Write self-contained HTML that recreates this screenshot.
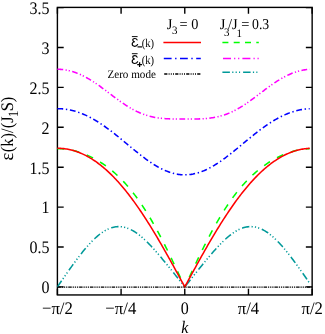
<!DOCTYPE html>
<html><head><meta charset="utf-8"><style>
html,body{margin:0;padding:0;background:#fff;}
body{width:325px;height:334px;overflow:hidden;}
svg{display:block;}
text{font-family:"Liberation Serif",serif;fill:#000;text-rendering:geometricPrecision;}
</style></head><body>
<svg style="will-change:transform" width="325" height="334" viewBox="0 0 325 334">
<rect width="325" height="334" fill="#fff"/>
<g stroke="#000" stroke-width="1.4" fill="none">
<rect x="57.40" y="7.40" width="254.75" height="287.55"/>
<path d="M57.40,286.90 h6.3 M312.15,286.90 h-6.3"/>
<path d="M57.40,247.00 h6.3 M312.15,247.00 h-6.3"/>
<path d="M57.40,207.10 h6.3 M312.15,207.10 h-6.3"/>
<path d="M57.40,167.20 h6.3 M312.15,167.20 h-6.3"/>
<path d="M57.40,127.30 h6.3 M312.15,127.30 h-6.3"/>
<path d="M57.40,87.40 h6.3 M312.15,87.40 h-6.3"/>
<path d="M57.40,47.50 h6.3 M312.15,47.50 h-6.3"/>
<path d="M57.40,7.60 h6.3 M312.15,7.60 h-6.3"/>
<path d="M57.40,294.95 v-6.3 M57.40,7.40 v6.3"/>
<path d="M121.09,294.95 v-6.3 M121.09,7.40 v6.3"/>
<path d="M184.77,294.95 v-6.3 M184.77,7.40 v6.3"/>
<path d="M248.46,294.95 v-6.3 M248.46,7.40 v6.3"/>
<path d="M312.15,294.95 v-6.3 M312.15,7.40 v6.3"/>
</g>
<g fill="none" stroke-width="1.5">
<g transform="scale(1,1)" stroke-width="1.55">
<path d="M57.40,148.694 L58.46,148.703 L59.52,148.728 L60.58,148.769 L61.65,148.827 L62.71,148.901 L63.77,148.993 L64.83,149.100 L65.89,149.224 L66.95,149.365 L68.01,149.522 L69.08,149.695 L70.14,149.885 L71.20,150.091 L72.26,150.314 L73.32,150.553 L74.38,150.809 L75.44,151.080 L76.51,151.368 L77.57,151.672 L78.63,151.993 L79.69,152.330 L80.75,152.683 L81.81,153.052 L82.88,153.438 L83.94,153.840 L85.00,154.259 L86.06,154.693 L87.12,155.144 L88.18,155.612 L89.24,156.096 L90.31,156.597 L91.37,157.115 L92.43,157.649 L93.49,158.200 L94.55,158.768 L95.61,159.353 L96.67,159.956 L97.74,160.576 L98.80,161.213 L99.86,161.868 L100.92,162.541 L101.98,163.233 L103.04,163.942 L104.10,164.670 L105.17,165.417 L106.23,166.183 L107.29,166.969 L108.35,167.773 L109.41,168.598 L110.47,169.443 L111.53,170.308 L112.60,171.194 L113.66,172.101 L114.72,173.029 L115.78,173.978 L116.84,174.950 L117.90,175.944 L118.96,176.960 L120.03,178.000 L121.09,179.062 L122.15,180.148 L123.21,181.258 L124.27,182.392 L125.33,183.550 L126.39,184.733 L127.46,185.941 L128.52,187.175 L129.58,188.433 L130.64,189.718 L131.70,191.029 L132.76,192.365 L133.82,193.728 L134.89,195.118 L135.95,196.535 L137.01,197.978 L138.07,199.448 L139.13,200.945 L140.19,202.470 L141.26,204.021 L142.32,205.600 L143.38,207.205 L144.44,208.838 L145.50,210.498 L146.56,212.184 L147.62,213.897 L148.69,215.637 L149.75,217.403 L150.81,219.195 L151.87,221.012 L152.93,222.855 L153.99,224.723 L155.05,226.616 L156.12,228.532 L157.18,230.473 L158.24,232.436 L159.30,234.422 L160.36,236.431 L161.42,238.460 L162.48,240.511 L163.55,242.581 L164.61,244.671 L165.67,246.779 L166.73,248.906 L167.79,251.049 L168.85,253.209 L169.91,255.384 L170.98,257.573 L172.04,259.776 L173.10,261.991 L174.16,264.218 L175.22,266.455 L176.28,268.703 L177.34,270.958 L178.41,273.222 L179.47,275.491 L180.53,277.767 L181.59,280.046 L182.65,282.329 L183.71,284.614 L184.77,286.900" stroke="#00ff00" stroke-dasharray="7 8.1"/>
<path d="M184.77,286.900 L185.82,284.658 L186.86,282.417 L187.90,280.178 L188.94,277.942 L189.98,275.710 L191.02,273.483 L192.06,271.263 L193.10,269.049 L194.14,266.844 L195.19,264.648 L196.23,262.461 L197.27,260.286 L198.31,258.122 L199.35,255.972 L200.39,253.835 L201.43,251.712 L202.47,249.605 L203.51,247.514 L204.55,245.439 L205.60,243.383 L206.64,241.345 L207.68,239.325 L208.72,237.326 L209.76,235.347 L210.80,233.389 L211.84,231.452 L212.88,229.537 L213.92,227.645 L214.97,225.776 L216.01,223.930 L217.05,222.108 L218.09,220.311 L219.13,218.537 L220.17,216.789 L221.21,215.066 L222.25,213.368 L223.29,211.695 L224.33,210.049 L225.38,208.428 L226.42,206.833 L227.46,205.264 L228.50,203.721 L229.54,202.204 L230.58,200.713 L231.62,199.249 L232.66,197.810 L233.70,196.397 L234.75,195.011 L235.79,193.649 L236.83,192.314 L237.87,191.003 L238.91,189.718 L239.95,188.458 L240.99,187.223 L242.03,186.012 L243.07,184.826 L244.11,183.663 L245.16,182.525 L246.20,181.409 L247.24,180.318 L248.28,179.249 L249.32,178.202 L250.36,177.179 L251.40,176.177 L252.44,175.197 L253.48,174.238 L254.52,173.301 L255.57,172.384 L256.61,171.488 L257.65,170.613 L258.69,169.757 L259.73,168.921 L260.77,168.104 L261.81,167.307 L262.85,166.529 L263.89,165.769 L264.94,165.027 L265.98,164.304 L267.02,163.599 L268.06,162.912 L269.10,162.242 L270.14,161.589 L271.18,160.954 L272.22,160.335 L273.26,159.734 L274.30,159.149 L275.35,158.581 L276.39,158.029 L277.43,157.493 L278.47,156.974 L279.51,156.470 L280.55,155.983 L281.59,155.512 L282.63,155.057 L283.67,154.617 L284.72,154.193 L285.76,153.785 L286.80,153.393 L287.84,153.016 L288.88,152.655 L289.92,152.310 L290.96,151.981 L292.00,151.667 L293.04,151.368 L294.08,151.086 L295.13,150.819 L296.17,150.568 L297.21,150.332 L298.25,150.112 L299.29,149.908 L300.33,149.720 L301.37,149.547 L302.41,149.391 L303.45,149.250 L304.49,149.125 L305.54,149.016 L306.58,148.923 L307.62,148.845 L308.66,148.784 L309.70,148.739" stroke="#00ff00" stroke-dasharray="7 8.1" stroke-dashoffset="4.47"/>
<path d="M57.40,69.277 L58.46,69.289 L59.52,69.323 L60.58,69.380 L61.65,69.460 L62.71,69.562 L63.77,69.687 L64.83,69.835 L65.89,70.006 L66.95,70.199 L68.01,70.414 L69.08,70.652 L70.14,70.913 L71.20,71.195 L72.26,71.500 L73.32,71.826 L74.38,72.174 L75.44,72.544 L76.51,72.936 L77.57,73.348 L78.63,73.781 L79.69,74.235 L80.75,74.710 L81.81,75.204 L82.88,75.719 L83.94,76.252 L85.00,76.805 L86.06,77.376 L87.12,77.965 L88.18,78.572 L89.24,79.196 L90.31,79.836 L91.37,80.492 L92.43,81.164 L93.49,81.850 L94.55,82.549 L95.61,83.262 L96.67,83.988 L97.74,84.725 L98.80,85.473 L99.86,86.231 L100.92,86.998 L101.98,87.773 L103.04,88.556 L104.10,89.344 L105.17,90.139 L106.23,90.937 L107.29,91.739 L108.35,92.543 L109.41,93.349 L110.47,94.155 L111.53,94.960 L112.60,95.763 L113.66,96.564 L114.72,97.361 L115.78,98.152 L116.84,98.938 L117.90,99.717 L118.96,100.489 L120.03,101.251 L121.09,102.003 L122.15,102.745 L123.21,103.475 L124.27,104.193 L125.33,104.898 L126.39,105.588 L127.46,106.263 L128.52,106.923 L129.58,107.567 L130.64,108.194 L131.70,108.804 L132.76,109.396 L133.82,109.970 L134.89,110.525 L135.95,111.061 L137.01,111.578 L138.07,112.075 L139.13,112.552 L140.19,113.010 L141.26,113.448 L142.32,113.866 L143.38,114.264 L144.44,114.642 L145.50,115.001 L146.56,115.341 L147.62,115.661 L148.69,115.963 L149.75,116.246 L150.81,116.512 L151.87,116.760 L152.93,116.991 L153.99,117.205 L155.05,117.404 L156.12,117.587 L157.18,117.755 L158.24,117.910 L159.30,118.051 L160.36,118.179 L161.42,118.296 L162.48,118.401 L163.55,118.495 L164.61,118.579 L165.67,118.654 L166.73,118.721 L167.79,118.779 L168.85,118.830 L169.91,118.875 L170.98,118.914 L172.04,118.947 L173.10,118.975 L174.16,118.999 L175.22,119.019 L176.28,119.036 L177.34,119.050 L178.41,119.061 L179.47,119.070 L180.53,119.077 L181.59,119.082 L182.65,119.086 L183.71,119.088 L184.77,119.089 L184.77,119.089 L185.82,119.088 L186.86,119.086 L187.90,119.083 L188.94,119.078 L189.98,119.071 L191.02,119.062 L192.06,119.052 L193.10,119.039 L194.14,119.023 L195.19,119.003 L196.23,118.981 L197.27,118.954 L198.31,118.922 L199.35,118.886 L200.39,118.844 L201.43,118.796 L202.47,118.741 L203.51,118.678 L204.55,118.608 L205.60,118.528 L206.64,118.440 L207.68,118.341 L208.72,118.232 L209.76,118.112 L210.80,117.979 L211.84,117.834 L212.88,117.676 L213.92,117.504 L214.97,117.318 L216.01,117.116 L217.05,116.899 L218.09,116.666 L219.13,116.417 L220.17,116.150 L221.21,115.866 L222.25,115.565 L223.29,115.245 L224.33,114.906 L225.38,114.549 L226.42,114.174 L227.46,113.779 L228.50,113.365 L229.54,112.932 L230.58,112.480 L231.62,112.009 L232.66,111.519 L233.70,111.010 L234.75,110.483 L235.79,109.937 L236.83,109.374 L237.87,108.793 L238.91,108.195 L239.95,107.580 L240.99,106.949 L242.03,106.302 L243.07,105.641 L244.11,104.965 L245.16,104.275 L246.20,103.573 L247.24,102.858 L248.28,102.133 L249.32,101.397 L250.36,100.651 L251.40,99.896 L252.44,99.134 L253.48,98.365 L254.52,97.590 L255.57,96.810 L256.61,96.026 L257.65,95.238 L258.69,94.449 L259.73,93.659 L260.77,92.869 L261.81,92.079 L262.85,91.292 L263.89,90.507 L264.94,89.726 L265.98,88.950 L267.02,88.179 L268.06,87.415 L269.10,86.658 L270.14,85.909 L271.18,85.170 L272.22,84.440 L273.26,83.722 L274.30,83.014 L275.35,82.319 L276.39,81.637 L277.43,80.969 L278.47,80.314 L279.51,79.675 L280.55,79.051 L281.59,78.442 L282.63,77.851 L283.67,77.276 L284.72,76.719 L285.76,76.180 L286.80,75.659 L287.84,75.156 L288.88,74.673 L289.92,74.209 L290.96,73.765 L292.00,73.340 L293.04,72.936 L294.08,72.552 L295.13,72.188 L296.17,71.846 L297.21,71.524 L298.25,71.224 L299.29,70.944 L300.33,70.686 L301.37,70.450 L302.41,70.235 L303.45,70.041 L304.49,69.870 L305.54,69.720 L306.58,69.591 L307.62,69.485 L308.66,69.401 L309.70,69.338" stroke="#ff00ff" stroke-dasharray="5.8 2.4 1.2 2 1.2 2.4"/>
<path d="M57.40,286.900 L58.46,285.355 L59.52,283.810 L60.58,282.267 L61.65,280.726 L62.71,279.188 L63.77,277.654 L64.83,276.124 L65.89,274.599 L66.95,273.081 L68.01,271.569 L69.08,270.064 L70.14,268.568 L71.20,267.082 L72.26,265.605 L73.32,264.140 L74.38,262.687 L75.44,261.246 L76.51,259.820 L77.57,258.408 L78.63,257.013 L79.69,255.634 L80.75,254.273 L81.81,252.932 L82.88,251.611 L83.94,250.311 L85.00,249.034 L86.06,247.781 L87.12,246.552 L88.18,245.349 L89.24,244.174 L90.31,243.027 L91.37,241.909 L92.43,240.823 L93.49,239.768 L94.55,238.746 L95.61,237.759 L96.67,236.807 L97.74,235.891 L98.80,235.013 L99.86,234.173 L100.92,233.374 L101.98,232.614 L103.04,231.897 L104.10,231.221 L105.17,230.590 L106.23,230.002 L107.29,229.459 L108.35,228.961 L109.41,228.510 L110.47,228.106 L111.53,227.749 L112.60,227.439 L113.66,227.178 L114.72,226.964 L115.78,226.800 L116.84,226.684 L117.90,226.617 L118.96,226.598 L120.03,226.628 L121.09,226.707 L122.15,226.834 L123.21,227.008 L124.27,227.231 L125.33,227.500 L126.39,227.816 L127.46,228.178 L128.52,228.585 L129.58,229.036 L130.64,229.531 L131.70,230.069 L132.76,230.649 L133.82,231.269 L134.89,231.930 L135.95,232.629 L137.01,233.366 L138.07,234.139 L139.13,234.948 L140.19,235.791 L141.26,236.666 L142.32,237.574 L143.38,238.511 L144.44,239.478 L145.50,240.472 L146.56,241.493 L147.62,242.539 L148.69,243.608 L149.75,244.701 L150.81,245.814 L151.87,246.948 L152.93,248.100 L153.99,249.270 L155.05,250.457 L156.12,251.658 L157.18,252.874 L158.24,254.104 L159.30,255.345 L160.36,256.597 L161.42,257.860 L162.48,259.132 L163.55,260.413 L164.61,261.701 L165.67,262.996 L166.73,264.297 L167.79,265.604 L168.85,266.916 L169.91,268.232 L170.98,269.553 L172.04,270.876 L173.10,272.203 L174.16,273.532 L175.22,274.863 L176.28,276.196 L177.34,277.531 L178.41,278.867 L179.47,280.205 L180.53,281.543 L181.59,282.881 L182.65,284.221 L183.71,285.560 L184.77,286.900 L184.77,286.900 L185.82,285.586 L186.86,284.272 L187.90,282.959 L188.94,281.646 L189.98,280.333 L191.02,279.022 L192.06,277.711 L193.10,276.402 L194.14,275.094 L195.19,273.788 L196.23,272.484 L197.27,271.182 L198.31,269.883 L199.35,268.588 L200.39,267.296 L201.43,266.008 L202.47,264.724 L203.51,263.446 L204.55,262.173 L205.60,260.907 L206.64,259.648 L207.68,258.397 L208.72,257.155 L209.76,255.922 L210.80,254.699 L211.84,253.488 L212.88,252.288 L213.92,251.102 L214.97,249.930 L216.01,248.773 L217.05,247.633 L218.09,246.510 L219.13,245.405 L220.17,244.320 L221.21,243.256 L222.25,242.214 L223.29,241.196 L224.33,240.202 L225.38,239.234 L226.42,238.292 L227.46,237.379 L228.50,236.496 L229.54,235.643 L230.58,234.821 L231.62,234.033 L232.66,233.279 L233.70,232.560 L234.75,231.878 L235.79,231.232 L236.83,230.626 L237.87,230.058 L238.91,229.531 L239.95,229.045 L240.99,228.601 L242.03,228.200 L243.07,227.842 L244.11,227.528 L245.16,227.259 L246.20,227.036 L247.24,226.858 L248.28,226.725 L249.32,226.640 L250.36,226.600 L251.40,226.608 L252.44,226.662 L253.48,226.764 L254.52,226.912 L255.57,227.107 L256.61,227.348 L257.65,227.636 L258.69,227.970 L259.73,228.349 L260.77,228.773 L261.81,229.243 L262.85,229.756 L263.89,230.313 L264.94,230.912 L265.98,231.553 L267.02,232.236 L268.06,232.959 L269.10,233.722 L270.14,234.524 L271.18,235.363 L272.22,236.239 L273.26,237.150 L274.30,238.096 L275.35,239.076 L276.39,240.089 L277.43,241.133 L278.47,242.207 L279.51,243.311 L280.55,244.442 L281.59,245.601 L282.63,246.786 L283.67,247.995 L284.72,249.229 L285.76,250.485 L286.80,251.762 L287.84,253.060 L288.88,254.377 L289.92,255.713 L290.96,257.065 L292.00,258.435 L293.04,259.819 L294.08,261.218 L295.13,262.630 L296.17,264.055 L297.21,265.492 L298.25,266.939 L299.29,268.396 L300.33,269.862 L301.37,271.336 L302.41,272.818 L303.45,274.306 L304.49,275.801 L305.54,277.300 L306.58,278.804 L307.62,280.311 L308.66,281.822 L309.70,283.335" stroke="#009999" stroke-dasharray="7.4 2.25 1.2 2.15 1.2 2.15 1.1 2.8"/>
<path d="M57.40,148.271 L58.46,148.282 L59.52,148.312 L60.58,148.362 L61.65,148.433 L62.71,148.524 L63.77,148.635 L64.83,148.767 L65.89,148.918 L66.95,149.090 L68.01,149.282 L69.08,149.495 L70.14,149.728 L71.20,149.981 L72.26,150.254 L73.32,150.548 L74.38,150.863 L75.44,151.197 L76.51,151.553 L77.57,151.929 L78.63,152.325 L79.69,152.742 L80.75,153.179 L81.81,153.637 L82.88,154.116 L83.94,154.616 L85.00,155.136 L86.06,155.677 L87.12,156.239 L88.18,156.821 L89.24,157.424 L90.31,158.049 L91.37,158.694 L92.43,159.360 L93.49,160.046 L94.55,160.754 L95.61,161.483 L96.67,162.232 L97.74,163.003 L98.80,163.795 L99.86,164.607 L100.92,165.440 L101.98,166.295 L103.04,167.170 L104.10,168.066 L105.17,168.983 L106.23,169.921 L107.29,170.880 L108.35,171.859 L109.41,172.859 L110.47,173.880 L111.53,174.922 L112.60,175.984 L113.66,177.067 L114.72,178.170 L115.78,179.293 L116.84,180.437 L117.90,181.601 L118.96,182.785 L120.03,183.989 L121.09,185.213 L122.15,186.457 L123.21,187.721 L124.27,189.004 L125.33,190.306 L126.39,191.628 L127.46,192.969 L128.52,194.329 L129.58,195.707 L130.64,197.104 L131.70,198.520 L132.76,199.954 L133.82,201.406 L134.89,202.876 L135.95,204.363 L137.01,205.869 L138.07,207.391 L139.13,208.930 L140.19,210.486 L141.26,212.059 L142.32,213.648 L143.38,215.253 L144.44,216.873 L145.50,218.509 L146.56,220.161 L147.62,221.827 L148.69,223.508 L149.75,225.204 L150.81,226.913 L151.87,228.636 L152.93,230.373 L153.99,232.123 L155.05,233.885 L156.12,235.660 L157.18,237.447 L158.24,239.246 L159.30,241.056 L160.36,242.877 L161.42,244.709 L162.48,246.551 L163.55,248.403 L164.61,250.265 L165.67,252.136 L166.73,254.015 L167.79,255.903 L168.85,257.799 L169.91,259.702 L170.98,261.613 L172.04,263.530 L173.10,265.453 L174.16,267.383 L175.22,269.317 L176.28,271.257 L177.34,273.201 L178.41,275.150 L179.47,277.102 L180.53,279.057 L181.59,281.015 L182.65,282.975 L183.71,284.937 L184.77,286.900 L184.77,286.900 L185.82,284.974 L186.86,283.050 L187.90,281.128 L188.94,279.207 L189.98,277.289 L191.02,275.375 L192.06,273.463 L193.10,271.556 L194.14,269.653 L195.19,267.754 L196.23,265.861 L197.27,263.973 L198.31,262.092 L199.35,260.216 L200.39,258.347 L201.43,256.486 L202.47,254.632 L203.51,252.785 L204.55,250.948 L205.60,249.118 L206.64,247.298 L207.68,245.487 L208.72,243.686 L209.76,241.895 L210.80,240.115 L211.84,238.345 L212.88,236.587 L213.92,234.839 L214.97,233.104 L216.01,231.381 L217.05,229.670 L218.09,227.972 L219.13,226.287 L220.17,224.615 L221.21,222.957 L222.25,221.313 L223.29,219.683 L224.33,218.068 L225.38,216.467 L226.42,214.881 L227.46,213.310 L228.50,211.755 L229.54,210.216 L230.58,208.692 L231.62,207.185 L232.66,205.694 L233.70,204.220 L234.75,202.762 L235.79,201.322 L236.83,199.899 L237.87,198.493 L238.91,197.105 L239.95,195.734 L240.99,194.382 L242.03,193.047 L243.07,191.731 L244.11,190.433 L245.16,189.153 L246.20,187.893 L247.24,186.651 L248.28,185.428 L249.32,184.224 L250.36,183.039 L251.40,181.873 L252.44,180.727 L253.48,179.600 L254.52,178.492 L255.57,177.404 L256.61,176.336 L257.65,175.288 L258.69,174.259 L259.73,173.250 L260.77,172.261 L261.81,171.292 L262.85,170.343 L263.89,169.414 L264.94,168.505 L265.98,167.616 L267.02,166.747 L268.06,165.898 L269.10,165.069 L270.14,164.261 L271.18,163.473 L272.22,162.704 L273.26,161.956 L274.30,161.228 L275.35,160.521 L276.39,159.833 L277.43,159.166 L278.47,158.518 L279.51,157.891 L280.55,157.284 L281.59,156.696 L282.63,156.129 L283.67,155.582 L284.72,155.055 L285.76,154.547 L286.80,154.060 L287.84,153.593 L288.88,153.145 L289.92,152.717 L290.96,152.309 L292.00,151.921 L293.04,151.553 L294.08,151.204 L295.13,150.875 L296.17,150.566 L297.21,150.276 L298.25,150.006 L299.29,149.756 L300.33,149.525 L301.37,149.314 L302.41,149.122 L303.45,148.950 L304.49,148.797 L305.54,148.664 L306.58,148.550 L307.62,148.456 L308.66,148.381 L309.70,148.325" stroke="#ff0000"/>
<path d="M57.40,108.659 L58.46,108.668 L59.52,108.696 L60.58,108.743 L61.65,108.809 L62.71,108.893 L63.77,108.996 L64.83,109.117 L65.89,109.258 L66.95,109.417 L68.01,109.594 L69.08,109.790 L70.14,110.005 L71.20,110.238 L72.26,110.489 L73.32,110.759 L74.38,111.047 L75.44,111.353 L76.51,111.678 L77.57,112.020 L78.63,112.381 L79.69,112.759 L80.75,113.155 L81.81,113.568 L82.88,114.000 L83.94,114.448 L85.00,114.914 L86.06,115.397 L87.12,115.896 L88.18,116.413 L89.24,116.945 L90.31,117.495 L91.37,118.060 L92.43,118.641 L93.49,119.238 L94.55,119.850 L95.61,120.477 L96.67,121.119 L97.74,121.775 L98.80,122.446 L99.86,123.130 L100.92,123.828 L101.98,124.540 L103.04,125.264 L104.10,126.000 L105.17,126.748 L106.23,127.508 L107.29,128.279 L108.35,129.061 L109.41,129.853 L110.47,130.655 L111.53,131.466 L112.60,132.286 L113.66,133.114 L114.72,133.950 L115.78,134.792 L116.84,135.642 L117.90,136.498 L118.96,137.358 L120.03,138.224 L121.09,139.094 L122.15,139.968 L123.21,140.845 L124.27,141.724 L125.33,142.605 L126.39,143.487 L127.46,144.369 L128.52,145.251 L129.58,146.132 L130.64,147.012 L131.70,147.889 L132.76,148.763 L133.82,149.634 L134.89,150.500 L135.95,151.361 L137.01,152.217 L138.07,153.065 L139.13,153.907 L140.19,154.741 L141.26,155.567 L142.32,156.383 L143.38,157.190 L144.44,157.985 L145.50,158.770 L146.56,159.543 L147.62,160.303 L148.69,161.050 L149.75,161.783 L150.81,162.501 L151.87,163.205 L152.93,163.893 L153.99,164.564 L155.05,165.219 L156.12,165.856 L157.18,166.475 L158.24,167.076 L159.30,167.657 L160.36,168.219 L161.42,168.761 L162.48,169.282 L163.55,169.782 L164.61,170.261 L165.67,170.718 L166.73,171.152 L167.79,171.564 L168.85,171.953 L169.91,172.318 L170.98,172.659 L172.04,172.977 L173.10,173.270 L174.16,173.539 L175.22,173.782 L176.28,174.001 L177.34,174.194 L178.41,174.362 L179.47,174.504 L180.53,174.621 L181.59,174.712 L182.65,174.777 L183.71,174.816 L184.77,174.829 L184.77,174.829 L185.82,174.816 L186.86,174.779 L187.90,174.716 L188.94,174.629 L189.98,174.517 L191.02,174.380 L192.06,174.218 L193.10,174.032 L194.14,173.822 L195.19,173.587 L196.23,173.329 L197.27,173.047 L198.31,172.741 L199.35,172.412 L200.39,172.060 L201.43,171.686 L202.47,171.289 L203.51,170.871 L204.55,170.431 L205.60,169.969 L206.64,169.487 L207.68,168.984 L208.72,168.461 L209.76,167.919 L210.80,167.358 L211.84,166.778 L212.88,166.180 L213.92,165.564 L214.97,164.932 L216.01,164.282 L217.05,163.617 L218.09,162.936 L219.13,162.241 L220.17,161.531 L221.21,160.807 L222.25,160.070 L223.29,159.321 L224.33,158.560 L225.38,157.788 L226.42,157.004 L227.46,156.211 L228.50,155.409 L229.54,154.598 L230.58,153.778 L231.62,152.952 L232.66,152.118 L233.70,151.279 L234.75,150.434 L235.79,149.584 L236.83,148.730 L237.87,147.872 L238.91,147.012 L239.95,146.149 L240.99,145.285 L242.03,144.420 L243.07,143.555 L244.11,142.690 L245.16,141.826 L246.20,140.963 L247.24,140.103 L248.28,139.246 L249.32,138.392 L250.36,137.541 L251.40,136.696 L252.44,135.856 L253.48,135.021 L254.52,134.192 L255.57,133.370 L256.61,132.556 L257.65,131.749 L258.69,130.950 L259.73,130.161 L260.77,129.380 L261.81,128.609 L262.85,127.848 L263.89,127.098 L264.94,126.359 L265.98,125.630 L267.02,124.914 L268.06,124.210 L269.10,123.518 L270.14,122.839 L271.18,122.174 L272.22,121.521 L273.26,120.883 L274.30,120.258 L275.35,119.648 L276.39,119.053 L277.43,118.472 L278.47,117.906 L279.51,117.356 L280.55,116.821 L281.59,116.302 L282.63,115.799 L283.67,115.312 L284.72,114.841 L285.76,114.387 L286.80,113.949 L287.84,113.528 L288.88,113.124 L289.92,112.737 L290.96,112.367 L292.00,112.014 L293.04,111.678 L294.08,111.359 L295.13,111.059 L296.17,110.775 L297.21,110.509 L298.25,110.261 L299.29,110.031 L300.33,109.818 L301.37,109.623 L302.41,109.446 L303.45,109.287 L304.49,109.146 L305.54,109.022 L306.58,108.917 L307.62,108.829 L308.66,108.760 L309.70,108.709" stroke="#0000ff" stroke-dasharray="5.8 2.7 1.4 2.7"/>
</g>
<path d="M57.40,287.1 H312.15" stroke="#000" stroke-width="1.45" stroke-dasharray="3.5 0.9 1.25 0.9 1.25 0.9 1.25 0.9"/>
<path d="M163.4,42.6 H201" stroke="#ff0000"/>
<path d="M222.4,42.4 H258.8" stroke="#00ff00" stroke-dasharray="6 5.3"/>
<path d="M163.8,58.5 H200.8" stroke="#0000ff" stroke-dasharray="7.8 3.5 1.4 3.5"/>
<path d="M223,58.5 H258.8" stroke="#ff00ff" stroke-dasharray="8 3.1 1.2 2.8 1.2 3.1"/>
<path d="M164.2,74 H201.1" stroke="#000" stroke-width="1.3" stroke-dasharray="3.2 1.2 1 1.2 1 1.2 1 1.2"/>
<path d="M222.4,72.2 H257.4" stroke="#009999" stroke-dasharray="7.5 2.3 1.2 2.2 1.2 2.2 1.1 3"/>
</g>
<g>
<text transform="translate(49.60,293.20) scale(1,1.1)" font-size="16" text-anchor="end">0</text>
<text transform="translate(49.60,253.30) scale(1,1.1)" font-size="16" text-anchor="end">0.5</text>
<text transform="translate(49.60,213.40) scale(1,1.1)" font-size="16" text-anchor="end">1</text>
<text transform="translate(49.60,173.50) scale(1,1.1)" font-size="16" text-anchor="end">1.5</text>
<text transform="translate(49.60,133.60) scale(1,1.1)" font-size="16" text-anchor="end">2</text>
<text transform="translate(49.60,93.70) scale(1,1.1)" font-size="16" text-anchor="end">2.5</text>
<text transform="translate(49.60,53.80) scale(1,1.1)" font-size="16" text-anchor="end">3</text>
<text transform="translate(49.60,13.90) scale(1,1.1)" font-size="16" text-anchor="end">3.5</text>
<text transform="translate(57.40,314.30) scale(1,1.1)" font-size="16" text-anchor="middle" textLength="30.90" lengthAdjust="spacingAndGlyphs">−π/2</text>
<text transform="translate(120.79,314.30) scale(1,1.1)" font-size="16" text-anchor="middle" textLength="30.90" lengthAdjust="spacingAndGlyphs">−π/4</text>
<text transform="translate(184.77,314.30) scale(1,1.1)" font-size="16" text-anchor="middle">0</text>
<text transform="translate(248.46,314.30) scale(1,1.1)" font-size="16" text-anchor="middle" textLength="21.40" lengthAdjust="spacingAndGlyphs">π/4</text>
<text transform="translate(312.15,314.30) scale(1,1.1)" font-size="16" text-anchor="middle" textLength="21.40" lengthAdjust="spacingAndGlyphs">π/2</text>
<text transform="translate(184.90,332.70) scale(1,1.1)" font-size="16" text-anchor="middle" font-style="italic">k</text>
<text transform="translate(12.70,160.60) rotate(-90) scale(1,1.1)" font-size="17" textLength="7.80" lengthAdjust="spacingAndGlyphs">ε</text>
<text transform="translate(12.70,152.20) rotate(-90) scale(1,1.1)" font-size="16" textLength="55.60" lengthAdjust="spacingAndGlyphs">(k)/(J<tspan font-size="13" dy="5.2" dx="-0.8">1</tspan><tspan dy="-5.2" dx="-0.8">S)</tspan></text>
<text transform="translate(166.70,28.80) scale(1,1.04)" font-size="14.5">J</text>
<text transform="translate(171.90,34.00) scale(1,1.04)" font-size="11">3</text>
<text transform="translate(179.50,28.80) scale(1,1.04)" font-size="14.5" textLength="18.80" lengthAdjust="spacingAndGlyphs">= 0</text>
<text transform="translate(219.80,28.80) scale(1,1.04)" font-size="14.5">J</text>
<text transform="translate(223.90,36.40) scale(1,1.04)" font-size="11">3</text>
<text transform="translate(228.10,28.80) scale(1,1.04)" font-size="14.5">/</text>
<text transform="translate(231.90,28.80) scale(1,1.04)" font-size="14.5">J</text>
<text transform="translate(236.60,36.70) scale(1,1.04)" font-size="11">1</text>
<text transform="translate(241.30,28.80) scale(1,1.04)" font-size="14.5">=</text>
<text transform="translate(252.00,28.80) scale(1,1.04)" font-size="14.5" textLength="17.20" lengthAdjust="spacingAndGlyphs">0.3</text>
<path transform="translate(131.8,38.10)" d="M5.3,1.8 C4.9,0.7 4.0,0.35 3.1,0.35 C1.8,0.35 0.95,1.0 0.95,2.0 C0.95,3.0 1.7,3.6 3.0,3.7 C1.3,3.9 0.4,4.7 0.4,6.0 C0.4,7.4 1.4,8.2 3.0,8.2 C4.3,8.2 5.3,7.6 5.8,6.4" fill="none" stroke="#000" stroke-width="1.15" stroke-linecap="round"/>
<path d="M131.9,36.60 H137.6" stroke="#000" stroke-width="0.95"/>
<path d="M137.5,46.9 H142.0" stroke="#000" stroke-width="1.2"/>
<text transform="translate(141.80,46.70) scale(1,1.05)" font-size="11.3" textLength="12.30" lengthAdjust="spacingAndGlyphs">(k)</text>
<path transform="translate(131.8,55.30)" d="M5.3,1.8 C4.9,0.7 4.0,0.35 3.1,0.35 C1.8,0.35 0.95,1.0 0.95,2.0 C0.95,3.0 1.7,3.6 3.0,3.7 C1.3,3.9 0.4,4.7 0.4,6.0 C0.4,7.4 1.4,8.2 3.0,8.2 C4.3,8.2 5.3,7.6 5.8,6.4" fill="none" stroke="#000" stroke-width="1.15" stroke-linecap="round"/>
<path d="M131.9,53.70 H137.6" stroke="#000" stroke-width="0.95"/>
<path d="M137.2,64.7 H142.0 M139.6,62.3 V67.1" stroke="#000" stroke-width="1.25"/>
<text transform="translate(141.80,64.00) scale(1,1.05)" font-size="11.3" textLength="12.30" lengthAdjust="spacingAndGlyphs">(k)</text>
<text transform="translate(107.40,78.00) scale(1,1.05)" font-size="11.1" textLength="48.50" lengthAdjust="spacingAndGlyphs">Zero mode</text>
</g>
</svg>
</body></html>
